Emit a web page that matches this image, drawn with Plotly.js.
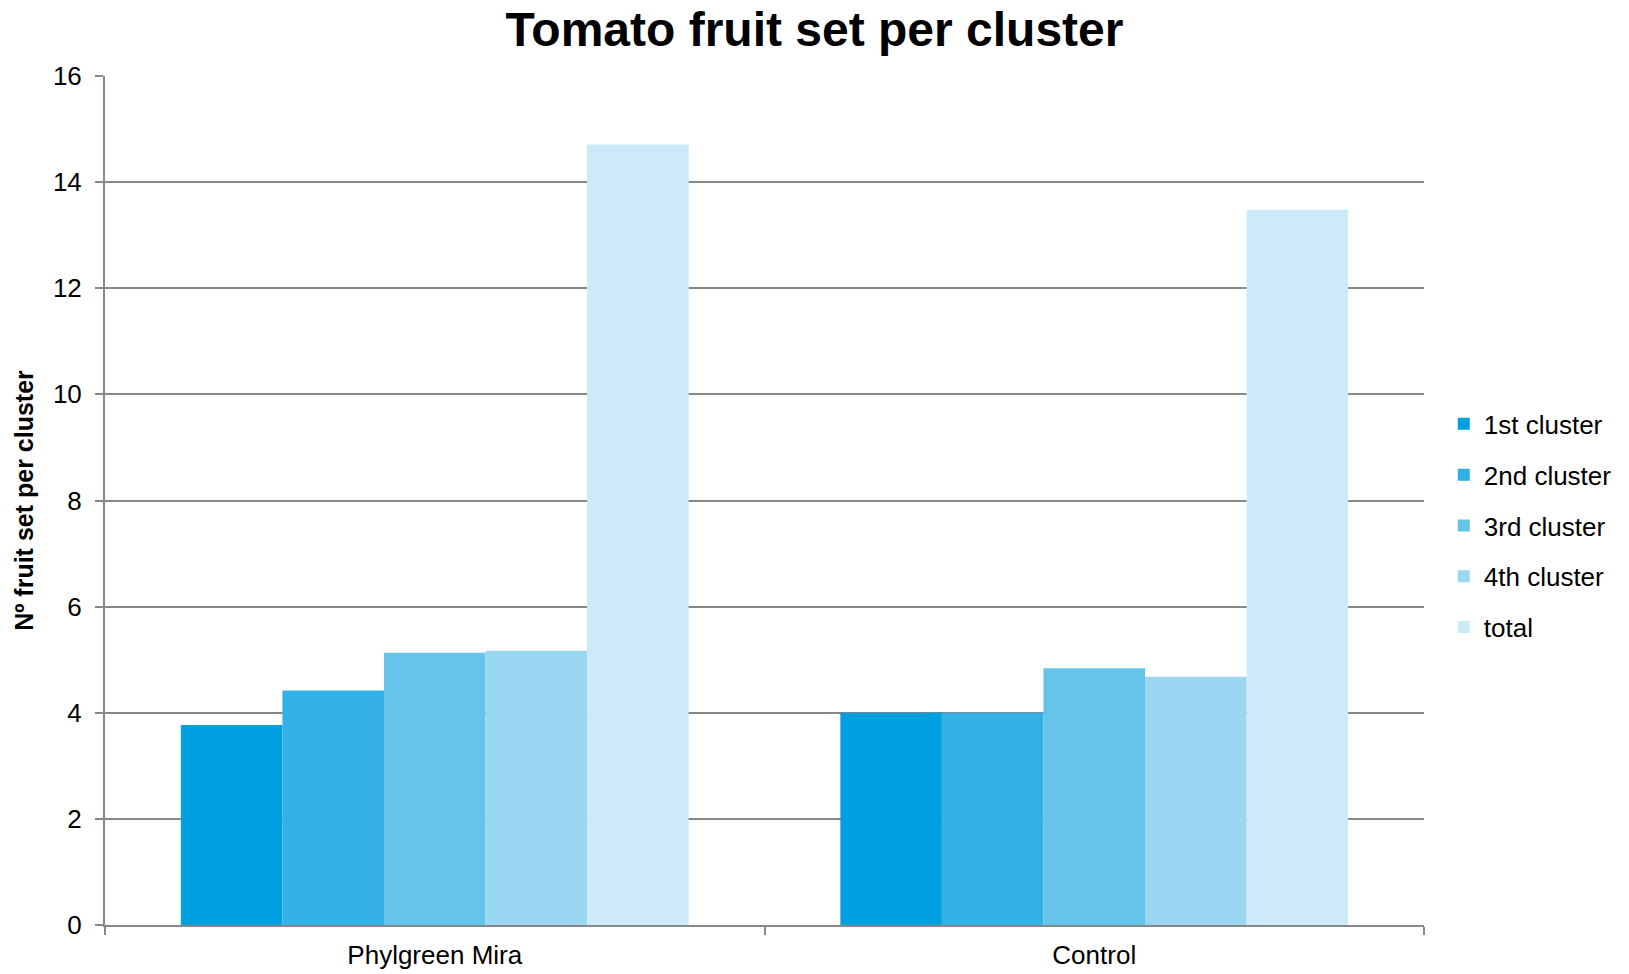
<!DOCTYPE html>
<html>
<head>
<meta charset="utf-8">
<script src="https://cdn.plot.ly/plotly-3.0.1.min.js"></script>
<style>html,body{margin:0;padding:0;background:#fff;}#chart{width:1629px;height:974px;}</style>
</head>
<body>
<div id="chart"></div>
<script>
const categories = ["Phylgreen Mira", "Control"];
const seriesNames = ["1st cluster", "2nd cluster", "3rd cluster", "4th cluster", "total"];
const cluster1 = [3.77, 4.0];
const cluster2 = [4.42, 4.0];
const cluster3 = [5.13, 4.84];
const cluster4 = [5.17, 4.68];
const total = [14.71, 13.48];
const colors = ["#009fdf", "#33b1e5", "#66c4ea", "#99d7f2", "#cceaf7"];

const values = [cluster1, cluster2, cluster3, cluster4, total];
const traces = values.map((v, i) => ({
  type: "bar",
  name: seriesNames[i],
  x: categories,
  y: v,
  legendgroup: "g" + i,
  marker: {color: colors[i], line: {width: 0}},
  hoverinfo: "x+y+name"
}));

const font = "Liberation Sans, Arial, sans-serif";
const layout = {
  width: 1629, height: 974,
  margin: {l: 105, r: 205, t: 76, b: 49},
  paper_bgcolor: "#fff", plot_bgcolor: "#fff",
  barmode: "group",
  bargap: 0.23,
  bargroupgap: 0,
  font: {family: font, color: "#000", size: 26},
  title: {text: "<b>Tomato fruit set per cluster</b>", x: 0.5, xanchor: "center", xref: "container",
          y: 0.97, yanchor: "middle", font: {family: font, size: 48, color: "#000"}},
  xaxis: {
    type: "category",
    showline: true, linecolor: "#888", linewidth: 2,
    ticks: "outside", tickson: "boundaries", ticklen: 8, tickcolor: "#888", tickwidth: 2,
    ticklabelstandoff: 6,
    showgrid: false,
    tickfont: {family: font, size: 26, color: "#000"}
  },
  yaxis: {
    range: [0, 16], dtick: 2, tick0: 0,
    showline: true, linecolor: "#888", linewidth: 2,
    ticks: "outside", ticklen: 8, tickcolor: "#888", tickwidth: 2,
    ticklabelstandoff: 8,
    showgrid: true, gridcolor: "#888", gridwidth: 2,
    zeroline: false,
    tickfont: {family: font, size: 26, color: "#000"},
    title: {text: "<b>Nº fruit set per cluster</b>", standoff: 12, font: {family: font, size: 25, color: "#000"}}
  },
  legend: {
    x: 1.015, xanchor: "left", y: 0.47, yanchor: "middle",
    font: {family: font, size: 26, color: "#000"},
    tracegroupgap: 14,
    itemwidth: 30,
    bgcolor: "rgba(0,0,0,0)"
  },
  showlegend: true
};

Plotly.newPlot("chart", traces, layout, {displayModeBar: false, staticPlot: false});
</script>
</body>
</html>
